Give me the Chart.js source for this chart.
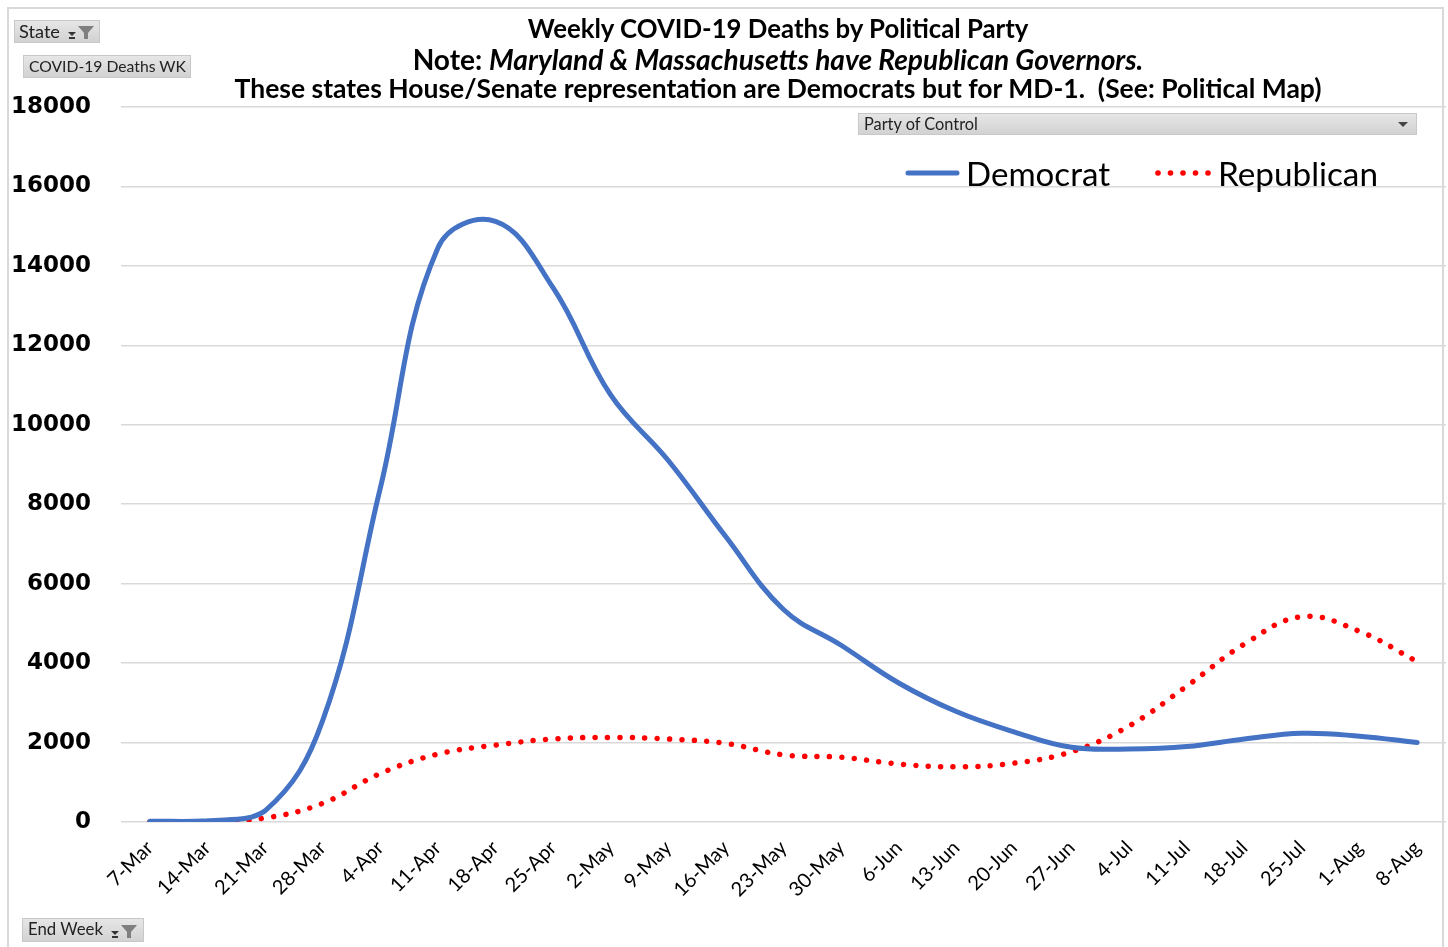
<!DOCTYPE html>
<html>
<head>
<meta charset="utf-8">
<script src="https://cdn.jsdelivr.net/npm/chart.js@4.4.1/dist/chart.umd.min.js"></script>
<style>
  html, body { margin: 0; padding: 0; background: #fff; }
  #wrap { position: relative; width: 1448px; height: 947px; overflow: hidden; }
  canvas { position: absolute; left: 0; top: 0; }
  .frame { position: absolute; left: 7px; top: 7px; width: 1437px; height: 980px; border: 2px solid #d9d9d9; box-sizing: border-box; pointer-events: none; }
  .t { position: absolute; white-space: nowrap; color: #000; font-family: Lato, "Open Sans", sans-serif; }
  .title { font-weight: bold; line-height: 30px; height: 30px; }
  .btn { position: absolute; background: linear-gradient(#e6e6e6, #d2d2d2); border: 1px solid #c8c8c8; box-sizing: border-box; }
  .btn span { position: absolute; white-space: nowrap; font-family: Lato, "Open Sans", sans-serif; color: #222; line-height: 20px; top: 0px; }
  .leg { font-family: Lato, "Open Sans", sans-serif; line-height: 36px; height: 36px; }
</style>
</head>
<body>
<div id="wrap">
  <canvas id="c" width="1448" height="947"></canvas>
  <div class="frame"></div>

  <div class="t title" id="t1" data-w="501" data-cx="778" style="top:13px;">Weekly COVID-19 Deaths by Political Party</div>
  <div class="t title" id="t2" data-w="731" data-cx="778" style="top:44px;">Note: <i>Maryland &amp; Massachusetts have Republican Governors.</i></div>
  <div class="t title" id="t3" data-w="1087" data-cx="778" style="top:73px;">These states House/Senate representation are Democrats but for MD-1.&nbsp; (See: Political Map)</div>

  <div class="btn" style="left:14px;top:20px;width:86px;height:23px;">
    <span class="fit" data-w="41" style="left:4px;">State</span>
    <svg style="position:absolute;left:51px;top:3px" width="32" height="16">
      <polygon points="2,8 10,8 6,12" fill="#333"/>
      <rect x="3" y="13" width="6" height="2" fill="#333"/>
      <polygon points="12,2 28,2 22,9 22,15 18,15 18,9" fill="#7f7f7f"/>
    </svg>
  </div>
  <div class="btn" style="left:23px;top:55px;width:168px;height:23px;">
    <span class="fit" data-w="157" style="left:5px;">COVID-19 Deaths WK</span>
  </div>
  <div class="btn" style="left:22px;top:918px;width:122px;height:24px;">
    <span class="fit" data-w="75" style="left:5px;">End Week</span>
    <svg style="position:absolute;left:86px;top:4px" width="32" height="16">
      <polygon points="2,8 10,8 6,12" fill="#333"/>
      <rect x="3" y="13" width="6" height="2" fill="#333"/>
      <polygon points="12,2 28,2 22,9 22,15 18,15 18,9" fill="#7f7f7f"/>
    </svg>
  </div>
  <div class="btn" style="left:858px;top:113px;width:559px;height:22px;">
    <span class="fit" data-w="114" style="left:5px;">Party of Control</span>
    <svg style="position:absolute;left:538px;top:6px" width="14" height="10">
      <polygon points="1,2 11,2 6,7" fill="#444"/>
    </svg>
  </div>

  <svg style="position:absolute;left:900px;top:163px" width="320" height="20">
    <line x1="8" y1="10" x2="57" y2="10" stroke="#4472C4" stroke-width="5" stroke-linecap="round"/>
    <circle cx="258" cy="10" r="2.8" fill="#FF0000"/>
    <circle cx="270.5" cy="10" r="2.8" fill="#FF0000"/>
    <circle cx="283" cy="10" r="2.8" fill="#FF0000"/>
    <circle cx="295.5" cy="10" r="2.8" fill="#FF0000"/>
    <circle cx="308" cy="10" r="2.8" fill="#FF0000"/>
  </svg>
  <div class="t leg fit" data-w="144" style="left:966px;top:155px;">Democrat</div>
  <div class="t leg fit" data-w="160" style="left:1218px;top:155px;">Republican</div>
</div>

<script>
const weeks = ['7-Mar','14-Mar','21-Mar','28-Mar','4-Apr','11-Apr','18-Apr','25-Apr','2-May','9-May','16-May','23-May','30-May','6-Jun','13-Jun','20-Jun','27-Jun','4-Jul','11-Jul','18-Jul','25-Jul','1-Aug','8-Aug'];
const democrat = [20, 30, 280, 2550, 8400, 14450, 15120, 13450, 10750, 9100, 7180, 5350, 4450, 3500, 2780, 2270, 1880, 1840, 1900, 2090, 2235, 2160, 2000];
const republican = [0, 10, 100, 470, 1220, 1710, 1935, 2090, 2130, 2090, 1980, 1690, 1630, 1460, 1390, 1480, 1770, 2420, 3420, 4480, 5170, 4800, 4040];
const yMin = 0, yMax = 18000, yStep = 2000;

// fit overlay texts to measured widths
function fitWidth(el, w, base) {
  el.style.fontSize = base + 'px';
  const cur = el.getBoundingClientRect().width;
  el.style.fontSize = (base * w / cur).toFixed(2) + 'px';
}
document.querySelectorAll('.title').forEach(el => {
  fitWidth(el, +el.dataset.w, 22);
  const w = el.getBoundingClientRect().width;
  el.style.left = (+el.dataset.cx - w / 2) + 'px';
});
document.querySelectorAll('.fit').forEach(el => {
  const base = el.classList.contains('leg') ? 30 : 14;
  fitWidth(el, +el.dataset.w, base);
});

new Chart(document.getElementById('c'), {
  type: 'line',
  data: {
    labels: weeks,
    datasets: [
      { label: 'Democrat', data: democrat, borderColor: '#4472C4', borderWidth: 5, tension: 0.4, pointRadius: 0, fill: false, borderCapStyle: 'round', borderJoinStyle: 'round' },
      { label: 'Republican', data: republican, borderColor: '#FF0000', borderWidth: 5.5, borderDash: [0.01, 12.4], borderCapStyle: 'round', tension: 0.4, pointRadius: 0, fill: false }
    ]
  },
  options: {
    responsive: false,
    devicePixelRatio: 1,
    animation: false,
    layout: { padding: { top: 107, left: 0, right: 2, bottom: 0 } },
    plugins: { legend: { display: false }, title: { display: false }, tooltip: { enabled: false } },
    scales: {
      x: {
        offset: true,
        grid: { display: false },
        border: { display: false },
        ticks: { autoSkip: false, maxRotation: 45, minRotation: 45, color: '#000', padding: 6,
                 font: { family: 'Lato', size: 20 } },
        afterFit: s => { s.height = 125; }
      },
      y: {
        min: yMin, max: yMax,
        grid: { color: '#d9d9d9', lineWidth: 1.5, drawTicks: false },
        border: { display: false },
        ticks: { stepSize: yStep, color: '#000', padding: 30,
                 callback: v => String(v),
                 font: { family: 'DejaVu Sans', weight: 'bold', size: 23 } },
        afterFit: s => { s.width = 121; }
      }
    }
  }
});
</script>
</body>
</html>
